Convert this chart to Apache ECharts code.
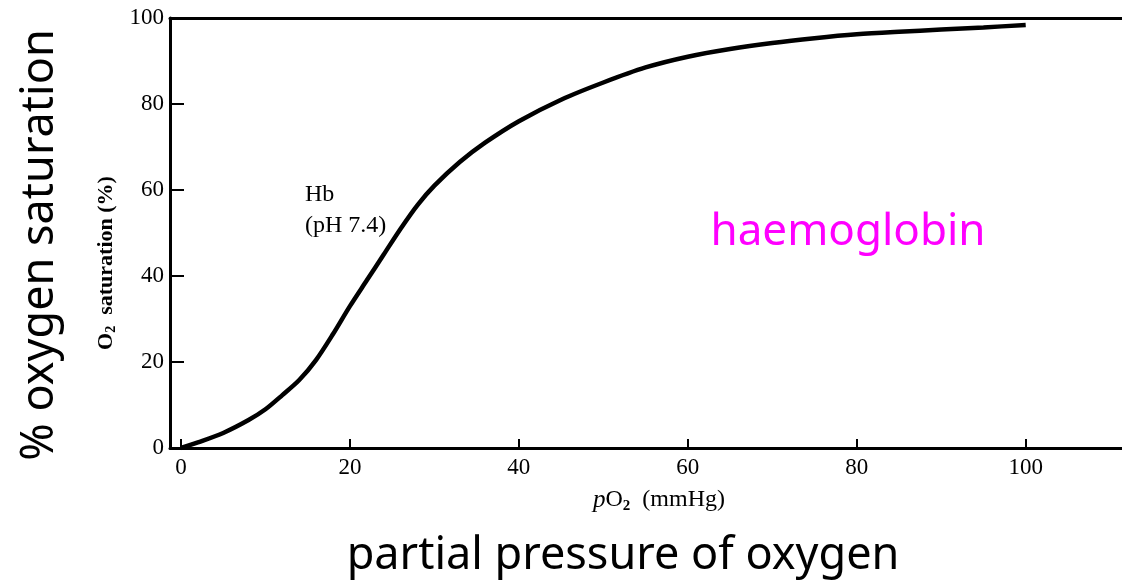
<!DOCTYPE html>
<html>
<head>
<meta charset="utf-8">
<script src="https://cdn.jsdelivr.net/npm/echarts@6/dist/echarts.min.js"></script>
<style>
  html, body { margin: 0; padding: 0; background: #fff; }
  #chart { width: 1122px; height: 582px; }
</style>
</head>
<body>
<div id="chart"></div>
<script>
// pO2 (mmHg) and O2 saturation (%)
const pO2 = [0, 2, 5, 8, 10, 12, 14, 16, 18, 20, 22, 24, 26, 28, 30, 33, 36, 40, 45, 50, 55, 60, 65, 70, 75, 80, 85, 90, 95, 100]
const saturation = [0, 1.3, 3.5, 6.5, 9, 12.3, 15.8, 20.5, 26.5, 33, 39, 45, 51, 56.5, 61, 66.5, 71, 76, 81, 85, 88.5, 91, 92.8, 94.2, 95.3, 96.2, 96.8, 97.3, 97.8, 98.4]
const xTicks = [0, 20, 40, 60, 80, 100]

const serif = '"Liberation Serif", "DejaVu Serif", serif'
const sans = '"Noto Sans", "DejaVu Sans", sans-serif'

const chart = echarts.init(document.getElementById('chart'))

const data = []
for (let i = 0; i < pO2.length; i++) {
  data.push([pO2[i], saturation[i]])
}

const option = {
  backgroundColor: '#fff',
  animation: false,
  grid: { left: 170, right: 0, top: 18, bottom: 134 },
  xAxis: [
    {
      type: 'value',
      position: 'bottom',
      min: -1.3,
      max: 111.4,
      splitLine: { show: false },
      axisLine: { onZero: false, lineStyle: { color: '#000', width: 3 } },
      axisTick: {
        inside: true, length: 9,
        lineStyle: { color: '#000', width: 2 },
        customValues: xTicks,
      },
      axisLabel: {
        color: '#000', fontFamily: serif, fontSize: 23, margin: 8,
        customValues: xTicks,
      },
    },
    {
      type: 'value',
      position: 'top',
      min: -1.3,
      max: 111.4,
      splitLine: { show: false },
      axisLine: { onZero: false, lineStyle: { color: '#000', width: 3 } },
      axisTick: { show: false },
      axisLabel: { show: false },
    },
  ],
  yAxis: {
    type: 'value',
    min: 0,
    max: 100,
    interval: 20,
    splitLine: { show: false },
    axisLine: { show: true, onZero: false, lineStyle: { color: '#000', width: 3 } },
    axisTick: { inside: true, length: 14, lineStyle: { color: '#000', width: 2 } },
    axisLabel: { color: '#000', fontFamily: serif, fontSize: 23, margin: 6 },
  },
  series: [
    {
      type: 'line',
      data: data,
      smooth: 0.3,
      showSymbol: false,
      lineStyle: { color: '#000', width: 4.5 },
    },
  ],
  graphic: [
    {
      type: 'text', x: 659, y: 500,
      style: {
        text: '{i|p}{n|O}{s|2}{n|  (mmHg)}',
        textAlign: 'center', textVerticalAlign: 'middle',
        rich: {
          i: { fontFamily: serif, fontSize: 25, fontStyle: 'italic', fill: '#000' },
          n: { fontFamily: serif, fontSize: 24, fill: '#000' },
          s: { fontFamily: serif, fontSize: 15, fontWeight: 'bold', fill: '#000', padding: [12, 0, 0, 0] },
        },
      },
    },
    {
      type: 'text', x: 106, y: 263, rotation: Math.PI / 2,
      style: {
        text: '{n|O}{s|2}{n|  saturation (%)}',
        textAlign: 'center', textVerticalAlign: 'middle',
        rich: {
          n: { fontFamily: serif, fontSize: 22, fontWeight: 'bold', fill: '#000' },
          s: { fontFamily: serif, fontSize: 14, fontWeight: 'bold', fill: '#000', padding: [11, 0, 0, 0] },
        },
      },
    },
    {
      type: 'text', x: 305, y: 195,
      style: { text: 'Hb', font: '24px ' + serif, fill: '#000', textVerticalAlign: 'middle' },
    },
    {
      type: 'text', x: 305, y: 226,
      style: { text: '(pH 7.4)', font: '24px ' + serif, fill: '#000', textVerticalAlign: 'middle' },
    },
    {
      type: 'text', x: 848, y: 232,
      style: { text: 'haemoglobin', font: '44px ' + sans, fill: '#ff00ff', textAlign: 'center', textVerticalAlign: 'middle' },
    },
    {
      type: 'text', x: 623, y: 556,
      style: { text: 'partial pressure of oxygen', font: '45px ' + sans, fill: '#000', textAlign: 'center', textVerticalAlign: 'middle' },
    },
    {
      type: 'text', x: 40, y: 245, rotation: Math.PI / 2,
      style: { text: '% oxygen saturation', font: '45px ' + sans, fill: '#000', textAlign: 'center', textVerticalAlign: 'middle' },
    },
  ],
}

chart.setOption(option)
</script>
</body>
</html>
